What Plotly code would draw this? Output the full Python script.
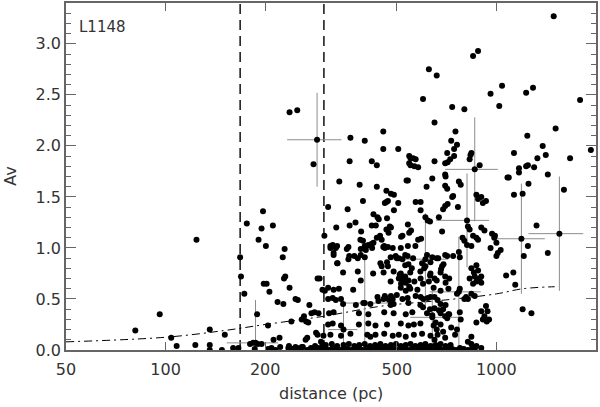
import numpy as np
import plotly.graph_objects as go

# stars as (distance pc, Av), grouped by region of the plot
near_stars = [
    (81, 0.19), (96, 0.35), (104, 0.12), (108, 0.04), (124, 1.08), (123, 0.05),
    (136, 0.20), (136, 0.05), (136, 0.00), (148, 0.00), (151, 0.15), (160, 0.02),
    (166, 0.02),
]

between_stars = [
    (168, 0.91), (169, 0.72), (173, 0.55), (176, 1.24), (180, 0.06), (184, 0.07),
    (190, 0.06), (195, 0.06), (189, 0.35), (191, 1.08), (195, 1.19), (197, 1.36),
    (201, 1.02), (198, 0.65), (202, 0.65), (206, 0.57), (204, 0.24), (211, 1.22),
    (212, 0.10), (221, 0.12), (218, 0.47), (227, 0.45), (226, 0.91), (229, 0.99),
    (228, 0.70), (230, 0.72), (237, 0.61), (240, 0.28), (247, 0.50), (251, 0.49),
    (235, 0.02), (242, 0.01), (250, 0.02), (204, 0.01), (209, 0.02), (237, 2.33),
    (250, 2.35), (272, 0.44), (258, 0.30), (262, 0.33), (266, 0.28), (270, 0.27),
    (276, 0.36), (282, 0.37), (290, 0.36), (265, 0.10), (268, 0.12), (285, 0.17),
    (288, 0.15), (300, 0.14), (295, 0.08), (298, 0.06), (255, 0.01), (260, 0.03),
    (275, 0.02), (280, 0.00), (290, 0.02), (288, 0.70), (292, 0.70), (280, 1.82),
    (222, 0.03), (215, 0.00), (186, 0.01), (236, 0.04), (247, 0.03), (258, 0.03),
    (268, 0.00), (283, 0.04), (296, 0.01), (298, 0.59), (303, 0.58),
]

high_stars = [
    (310, 1.40), (335, 1.65), (386, 1.62), (395, 1.46), (435, 1.60), (465, 1.56),
    (480, 1.53), (490, 1.52), (460, 1.44), (362, 2.08), (400, 2.05), (455, 2.14),
    (455, 1.97), (505, 1.97), (625, 2.75), (660, 2.69), (600, 2.46), (735, 2.38),
    (800, 2.36), (960, 2.51), (1040, 2.59), (1020, 2.39), (1230, 2.52), (1290, 2.57),
    (1790, 2.45), (650, 2.23), (1510, 2.17), (1240, 2.10), (752, 2.14), (730, 2.05),
    (760, 2.01), (745, 1.97), (710, 1.93), (745, 1.90), (725, 1.87), (700, 1.83),
    (712, 1.84), (1380, 2.00), (1410, 1.91), (1330, 1.88), (1670, 1.88), (1930, 1.96),
    (1130, 1.93), (840, 1.93), (830, 1.87), (545, 1.90), (570, 1.87), (545, 1.83),
    (565, 1.80), (580, 1.79), (360, 1.85), (420, 1.85), (435, 1.81), (650, 1.85),
    (700, 1.72), (702, 1.70), (700, 1.61), (640, 1.68), (615, 1.60), (770, 1.65),
    (780, 1.62), (890, 1.81), (1080, 1.69), (1090, 1.69), (1170, 1.78), (1170, 1.74),
    (1230, 1.80), (1245, 1.81), (1300, 1.79), (1430, 1.72), (1250, 1.63), (1600, 1.57),
    (535, 1.66), (540, 1.66), (1130, 1.52), (1200, 1.53), (740, 1.51), (870, 1.52),
    (1490, 3.27), (850, 2.88), (880, 2.93), (550, 1.88), (550, 1.81), (560, 1.88),
    (835, 1.91), (880, 1.48), (900, 1.50), (930, 1.46), (735, 1.50), (710, 1.58),
]

mid_stars = [
    (302, 1.12), (315, 1.02), (320, 1.03), (330, 1.02), (322, 0.95), (330, 0.85),
    (328, 1.20), (355, 1.38), (360, 1.22), (375, 1.25), (425, 1.33), (437, 1.30),
    (441, 1.28), (467, 1.29), (420, 1.22), (432, 1.22), (390, 1.16), (395, 1.07),
    (388, 1.08), (400, 1.02), (405, 1.02), (410, 1.03), (435, 1.10), (445, 1.12),
    (450, 1.08), (425, 1.05), (420, 1.04), (455, 1.01), (353, 0.99), (357, 0.89),
    (372, 0.92), (400, 0.91), (465, 1.45), (470, 1.46), (505, 1.44), (570, 1.45),
    (590, 1.45), (490, 1.37), (590, 1.37), (610, 1.30), (620, 1.27), (700, 1.41),
    (712, 1.43), (690, 1.38), (765, 1.40), (910, 1.44), (990, 1.12), (820, 1.21),
    (830, 1.18), (850, 1.12), (870, 1.10), (900, 1.20), (920, 1.17), (880, 1.08),
    (800, 1.07), (790, 1.10), (815, 1.03), (840, 1.02), (960, 1.00), (1000, 0.92),
    (1010, 0.95), (685, 1.16), (670, 1.30), (630, 1.26), (540, 1.23), (545, 1.15),
    (552, 1.17), (515, 1.11), (520, 1.12), (580, 1.08), (592, 1.09), (540, 1.02),
    (465, 1.18), (472, 1.15), (480, 1.20), (476, 1.21), (460, 1.00), (470, 1.01),
    (1322, 1.22), (1245, 1.02), (1210, 0.92), (1430, 0.95), (970, 1.14), (985, 1.10),
    (1030, 0.98), (1000, 1.05),
]

dense_stars = [
    (315, 1.00), (327, 1.00), (357, 1.01), (389, 0.99), (403, 0.98), (421, 1.00),
    (458, 1.02), (486, 1.00), (514, 1.00), (569, 1.02),
    (322, 0.93), (359, 0.92), (381, 0.90), (389, 0.93), (479, 0.91), (496, 0.92),
    (507, 0.90), (539, 0.92), (617, 0.93), (640, 0.91), (667, 0.90), (710, 0.92),
    (331, 0.85), (446, 0.85), (467, 0.86), (542, 0.84), (596, 0.85), (632, 0.86),
    (692, 0.84),
    (344, 0.76), (381, 0.77), (424, 0.75), (456, 0.76), (489, 0.77), (514, 0.75),
    (549, 0.76), (589, 0.77), (632, 0.75), (678, 0.76),
    (389, 0.68), (479, 0.67), (521, 0.69), (532, 0.66), (507, 0.70), (542, 0.68),
    (625, 0.67), (702, 0.66),
    (310, 0.61), (322, 0.59), (334, 0.60), (369, 0.59), (514, 0.61), (532, 0.58),
    (549, 0.60), (577, 0.59), (646, 0.61), (678, 0.58), (716, 0.60),
    (310, 0.50), (320, 0.51), (327, 0.49), (339, 0.50), (437, 0.52), (456, 0.50),
    (462, 0.51), (474, 0.49), (486, 0.50), (440, 0.48), (539, 0.51), (601, 0.50),
    (632, 0.52), (664, 0.49),
    (344, 0.45), (376, 0.44), (396, 0.46), (416, 0.45), (479, 0.44), (489, 0.45),
    (542, 0.46), (589, 0.44), (678, 0.45), (702, 0.44),
    (312, 0.36), (322, 0.37), (384, 0.36), (410, 0.35), (458, 0.37), (489, 0.36),
    (532, 0.35), (557, 0.37), (617, 0.36), (640, 0.34), (678, 0.36), (716, 0.35),
    (310, 0.25), (320, 0.26), (339, 0.24), (384, 0.25), (410, 0.26), (431, 0.24),
    (467, 0.25), (514, 0.26), (542, 0.24), (563, 0.25), (589, 0.26), (646, 0.24),
    (655, 0.27), (678, 0.25),
    (315, 0.15), (339, 0.14), (362, 0.16), (407, 0.15), (416, 0.13), (431, 0.15),
    (458, 0.16), (486, 0.14), (507, 0.15), (532, 0.13), (563, 0.15), (596, 0.16),
    (632, 0.14), (664, 0.15),
    (305, 0.05), (318, 0.06), (330, 0.04), (345, 0.05), (358, 0.06), (372, 0.04),
    (385, 0.05), (400, 0.06), (415, 0.04), (430, 0.05), (446, 0.06), (462, 0.04),
    (480, 0.05), (497, 0.06), (514, 0.04), (532, 0.05), (550, 0.06), (569, 0.04),
    (590, 0.05), (610, 0.06), (632, 0.04), (655, 0.05), (678, 0.06), (702, 0.04),
    (727, 0.05),
    (305, 0.01), (312, 0.00), (320, 0.02), (328, 0.01), (336, 0.00), (345, 0.02),
    (354, 0.01), (364, 0.00), (374, 0.02), (384, 0.01), (394, 0.00), (405, 0.02),
    (416, 0.01), (427, 0.00), (439, 0.02), (451, 0.01), (463, 0.00), (476, 0.02),
    (489, 0.01), (502, 0.00), (516, 0.02), (530, 0.01), (545, 0.00), (560, 0.02),
    (575, 0.01), (591, 0.00), (607, 0.02), (624, 0.01), (641, 0.00), (659, 0.02),
    (677, 0.01), (696, 0.00), (715, 0.02), (735, 0.01), (755, 0.00), (776, 0.02),
    (797, 0.01), (820, 0.00), (845, 0.02),
]

right_stars = [
    (500, 0.90), (520, 0.89), (530, 0.93), (560, 0.90), (660, 0.90), (700, 0.93),
    (740, 0.92), (775, 0.91), (770, 0.96), (610, 0.82), (605, 0.80), (685, 0.82),
    (680, 0.79), (450, 0.82), (470, 0.82), (530, 0.83), (555, 0.80),
    (510, 0.74), (530, 0.72), (520, 0.70), (515, 0.65), (530, 0.67), (545, 0.62),
    (565, 0.67), (600, 0.65), (590, 0.70), (630, 0.73), (660, 0.68), (650, 0.70),
    (700, 0.72), (720, 0.70), (830, 0.70), (860, 0.72), (850, 0.65), (870, 0.67),
    (890, 0.70), (900, 0.66), (880, 0.78), (760, 0.55), (775, 0.60),
    (650, 0.52), (620, 0.51), (590, 0.52), (570, 0.53), (520, 0.50), (500, 0.54),
    (480, 0.53), (460, 0.53), (820, 0.50), (840, 0.55), (810, 0.52), (860, 0.53),
    (840, 0.80), (855, 0.76), (870, 0.83), (900, 0.72),
    (1070, 0.73), (1125, 0.76), (1140, 0.64), (1200, 0.40), (1276, 0.36),
    (930, 0.43), (940, 0.38), (920, 0.33), (950, 0.30), (935, 0.28), (900, 0.38),
    (870, 0.27), (910, 0.30),
    (700, 0.33), (720, 0.35), (710, 0.31), (775, 0.37), (780, 0.30), (840, 0.13),
    (840, 0.06), (760, 0.20), (750, 0.15), (730, 0.22), (690, 0.18), (650, 0.10),
    (660, 0.20), (700, 0.12), (820, 0.08), (870, 0.04), (900, 0.02), (860, 0.01),
    (630, 0.40), (650, 0.41), (670, 0.39), (690, 0.40), (600, 0.42), (800, 0.50),
]

# stars plotted with error bars
err_dist = [287, 860, 1190, 1550, 815, 770, 610, 640, 187, 400, 345]
err_av = [2.06, 1.77, 1.09, 1.14, 1.27, 0.57, 0.89, 0.32, 0.07, 0.46, 0.20]
err_dist_lo = [233, 700, 990, 1250, 658, 629, 485, 549, 153, 340, 310]
err_dist_hi = [340, 1010, 1400, 1830, 950, 897, 715, 780, 219, 470, 380]
err_av_sig = [0.46, 0.51, 0.54, 0.56, 0.46, 0.54, 0.45, 0.30, 0.42, 0.46, 0.28]

# dash-dot reference curve
curve_dist = [50, 100, 150, 200, 300, 450, 700, 1000, 1200, 1500]
curve_av = [0.08, 0.125, 0.19, 0.25, 0.33, 0.43, 0.49, 0.55, 0.60, 0.62]

# cloud distance limits (dashed)
cloud_near = 168
cloud_far = 301

x_ticks = [50, 100, 200, 500, 1000]
y_min, y_max = 0, 3.4

all_stars = near_stars + between_stars + high_stars + mid_stars + dense_stars + right_stars
star_dist = [s[0] for s in all_stars]
star_av = [s[1] for s in all_stars]

axis_color = '#666666'
text_color = '#333333'
font_family = 'DejaVu Sans'

fig = go.Figure()

# Vertical dashed lines at cloud distance limits
for d in (cloud_near, cloud_far):
    fig.add_trace(go.Scatter(
        x=[d, d], y=[y_min, y_max], mode='lines',
        line=dict(color='black', width=1.4, dash='10px,6px'),
        hoverinfo='skip', showlegend=False
    ))

# Dash-dot curve
fig.add_trace(go.Scatter(
    x=curve_dist, y=curve_av, mode='lines',
    line=dict(color='black', width=1, dash='8px,4px,2px,4px', shape='spline'),
    hoverinfo='skip', showlegend=False
))

# Stars with error bars
fig.add_trace(go.Scatter(
    x=err_dist, y=err_av, mode='markers',
    marker=dict(color='black', size=6),
    error_x=dict(
        type='data', symmetric=False,
        array=[h - d for h, d in zip(err_dist_hi, err_dist)],
        arrayminus=[d - lo for d, lo in zip(err_dist, err_dist_lo)],
        color='#8c8c8c', thickness=1, width=0
    ),
    error_y=dict(
        type='data', array=err_av_sig,
        color='#8c8c8c', thickness=1, width=0
    ),
    showlegend=False
))

# All stars
fig.add_trace(go.Scatter(
    x=star_dist, y=star_av, mode='markers',
    marker=dict(color='black', size=6),
    showlegend=False
))

fig.update_xaxes(
    type='log',
    range=[np.log10(50), np.log10(2000)],
    tickvals=x_ticks,
    ticktext=[str(t) for t in x_ticks],
    ticks='inside', ticklen=8, tickwidth=1, tickcolor=axis_color,
    ticklabelstandoff=4,
    showline=True, linecolor=axis_color, linewidth=1.5, mirror='ticks',
    showgrid=False, zeroline=False, automargin=False,
    tickfont=dict(family=font_family, size=16, color=text_color),
)

fig.update_yaxes(
    range=[y_min, y_max],
    dtick=0.5, tickformat='.1f',
    ticks='inside', ticklen=10, tickwidth=1, tickcolor=axis_color,
    minor=dict(dtick=0.1, ticks='inside', ticklen=5, tickcolor=axis_color),
    showline=True, linecolor=axis_color, linewidth=1.5, mirror='ticks',
    showgrid=False, zeroline=False, automargin=False,
    tickfont=dict(family=font_family, size=16, color=text_color),
)

fig.update_layout(
    width=600, height=407,
    margin=dict(l=66, r=4, t=3, b=57),
    plot_bgcolor='white',
    paper_bgcolor='white',
    showlegend=False,
    annotations=[
        dict(x=0.5, y=-0.124, xref='paper', yref='paper', text='distance (pc)',
             showarrow=False, font=dict(family=font_family, size=16, color=text_color),
             xanchor='center', yanchor='middle'),
        dict(x=-0.105, y=0.5, xref='paper', yref='paper', text='Av', textangle=-90,
             showarrow=False, font=dict(family=font_family, size=16, color=text_color),
             xanchor='center', yanchor='middle'),
        dict(x=0.02, y=0.93, xref='paper', yref='paper', text='L1148',
             showarrow=False, font=dict(family=font_family, size=15, color=text_color),
             xanchor='left', yanchor='middle'),
    ],
)

# page body has a default 8px margin; drop it so the figure fills the window
fig.write_html('out.html', config={'displayModeBar': False},
               post_script="document.body.style.margin='0';")
